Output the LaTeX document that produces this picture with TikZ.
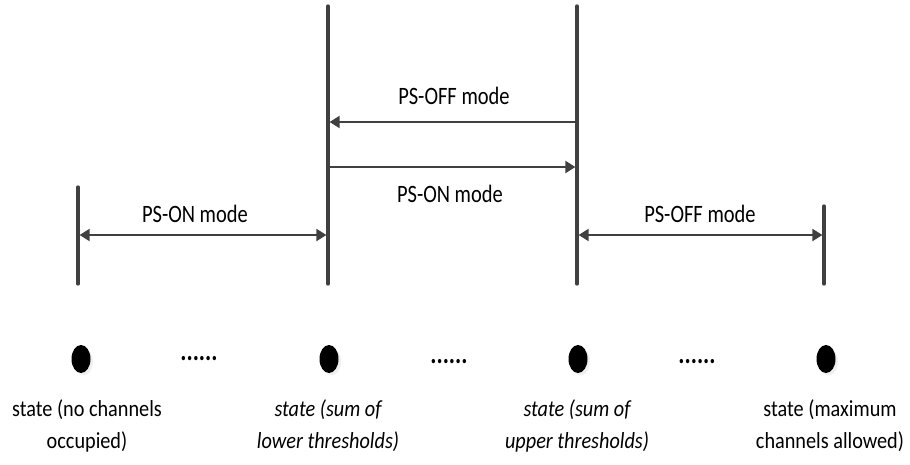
\documentclass[tikz,border=0pt]{standalone}
\usepackage{fontspec}
\usepackage{graphicx}
\setmainfont{Carlito}
\usetikzlibrary{arrows.meta,shapes.geometric,shadows}
\definecolor{lc}{HTML}{404040}
\newcommand\hsqz[2]{\scalebox{#1}[1]{#2}}
\newcommand\toplbl[1]{\hsqz{0.82}{\fontsize{25}{30}\selectfont #1}}
\newcommand\botlbl[1]{\hsqz{0.88}{\fontsize{23}{32}\selectfont\begin{tabular}{@{}c@{}}#1\end{tabular}}}
\newcommand\dotrow{\hsqz{0.8}{\bfseries\fontsize{29}{29}\selectfont ......}}
\tikzset{
  bar/.style={draw=lc,line width=3.3pt,line cap=round},
  tipT/.tip={Triangle[length=10pt,width=12pt]},
  arr/.style={draw=lc,line width=2pt,-tipT},
  darr/.style={draw=lc,line width=2pt,tipT-tipT},
  lbl/.style={inner sep=0pt},
  st/.style={inner sep=0pt},
  dot/.style={ellipse,fill=black,minimum width=19pt,minimum height=28pt,inner sep=0pt,
    drop shadow={shadow xshift=2.5pt,shadow yshift=-2.5pt,opacity=0.12}},
  dd/.style={inner sep=0pt}
}
\begin{document}
\begin{tikzpicture}[x=1pt,y=-1pt]
\useasboundingbox (0,0) rectangle (910,464);
% vertical bars
\coordinate (a1) at (78,187);  \coordinate (a2) at (78,284);
\coordinate (b1) at (328,6);   \coordinate (b2) at (328,284);
\coordinate (c1) at (577,6);   \coordinate (c2) at (577,284);
\coordinate (d1) at (824,206); \coordinate (d2) at (824,284);
\draw[bar] (a1) -- (a2);
\draw[bar] (b1) -- (b2);
\draw[bar] (c1) -- (c2);
\draw[bar] (d1) -- (d2);
% arrow anchors
\coordinate (aL) at (78,235);  \coordinate (bL) at (328,235);
\coordinate (cR) at (577,235); \coordinate (dR) at (824,235);
\coordinate (bT) at (328,122); \coordinate (cT) at (577,122);
\coordinate (bM) at (328,167); \coordinate (cM) at (577,167);
\draw[darr] ([xshift=1.6pt]aL) -- ([xshift=-1.6pt]bL);
\draw[darr] ([xshift=1.6pt]cR) -- ([xshift=-1.6pt]dR);
\draw[arr] ([xshift=-1.6pt]cT) -- ([xshift=1.6pt]bT);
\draw[arr] ([xshift=1.6pt]bM) -- ([xshift=-1.6pt]cM);
% labels
\node[lbl] (l1) at (195,214) {\toplbl{PS-ON mode}};
\node[lbl] (l2) at (454,96) {\toplbl{PS-OFF mode}};
\node[lbl] (l3) at (450,194) {\toplbl{PS-ON mode}};
\node[lbl] (l4) at (700,214) {\toplbl{PS-OFF mode}};
% states
\node[dot] (s1) at (81,359) {};
\node[dot] (s2) at (329,359) {};
\node[dot] (s3) at (578,359) {};
\node[dot] (s4) at (826,359) {};
\node[dd] (e1) at (199,359) {\dotrow};
\node[dd] (e2) at (449,362) {\dotrow};
\node[dd] (e3) at (697,362) {\dotrow};
\node[st] (t1) at (87,426) {\botlbl{state (no channels\\occupied)}};
\node[st] (t2) at (328,426) {\botlbl{\itshape state (sum of\\\itshape lower thresholds)}};
\node[st] (t3) at (577,426) {\botlbl{\itshape state (sum of\\\itshape upper thresholds)}};
\node[st] (t4) at (830,426) {\botlbl{state (maximum\\channels allowed)}};
\end{tikzpicture}
\end{document}
